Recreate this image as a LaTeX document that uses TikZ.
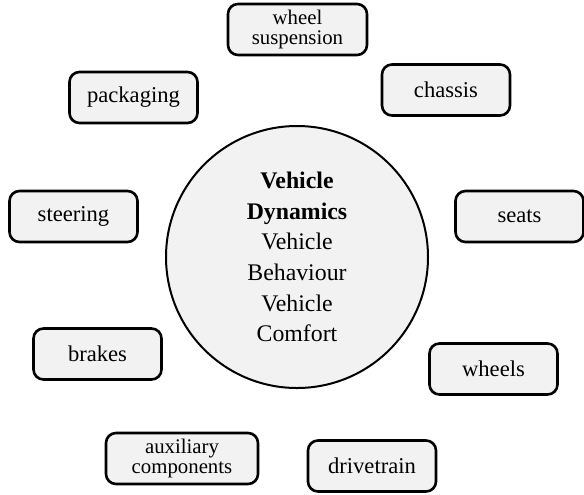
\documentclass[tikz,border=0pt]{standalone}
\usepackage{fontspec}
\setmainfont{Liberation Serif}
\usetikzlibrary{calc}

\begin{document}
\begin{tikzpicture}[x=0.5pt,y=-0.5pt,
    part/.style={draw,line width=1.3pt,rounded corners=5pt,fill=black!5,
        minimum width=64pt,minimum height=25.5pt,inner sep=1pt,align=center,
        font=\fontsize{11.3}{13}\selectfont},
    twoline/.style={font=\fontsize{10.4}{9.8}\selectfont},
    core/.style={draw,circle,line width=1pt,fill=black!5,minimum size=131pt,
        inner sep=0pt,align=center,font=\fontsize{11.9}{15.35}\selectfont}]
    \useasboundingbox (0,0) rectangle (584,494);

    \coordinate (M) at (297,257);

    \node[core] (vdyn) at (M) {\textbf{Vehicle}\\\textbf{Dynamics}\\Vehicle\\Behaviour\\Vehicle\\Comfort};

    \node[part,twoline,minimum width=69.5pt] (whsusp) at (297.5,29.5) {wheel\\suspension};
    \node[part] (chassis) at (446,90) {chassis};
    \node[part] (packaging) at (133.5,97.5) {packaging};
    \node[part] (steering) at (73.5,216.5) {steering};
    \node[part] (seats) at (519.5,216.5) {seats};
    \node[part] (brakes) at (97.5,354) {brakes};
    \node[part] (wheels) at (493.5,369) {wheels};
    \node[part,twoline,minimum width=76pt] (auxcomp) at (182,458.5) {auxiliary\\components};
    \node[part] (drivetrain) at (372,466) {drivetrain};

\end{tikzpicture}
\end{document}
